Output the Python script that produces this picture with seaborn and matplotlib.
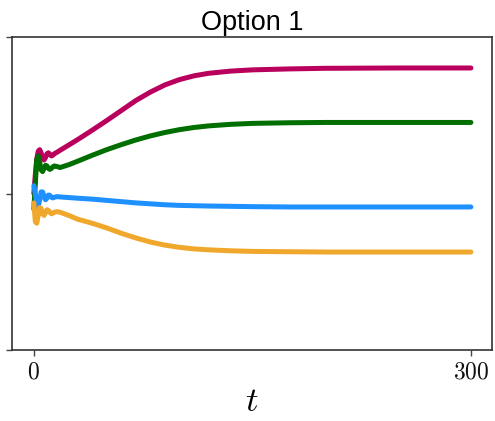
import numpy as np
import pandas as pd
import matplotlib
matplotlib.use("Agg")
import matplotlib.pyplot as plt
import seaborn as sns

# Time samples shared by all four trajectories
t = [0, 1, 2, 3, 4, 5, 6, 7, 8, 9, 10, 11, 12, 13, 14, 16, 18, 24, 30,
     40, 50, 60, 70, 80, 90, 100, 110, 120, 135, 150, 175, 200, 250, 300]

magenta = [0.500, 0.560, 0.610, 0.635, 0.640, 0.630, 0.612, 0.607, 0.615, 0.627,
           0.630, 0.625, 0.620, 0.622, 0.627, 0.632, 0.638, 0.655, 0.672,
           0.702, 0.733, 0.765, 0.797, 0.824, 0.847, 0.864, 0.876, 0.884, 0.891,
           0.895, 0.898, 0.900, 0.901, 0.901]
green = [0.450, 0.530, 0.610, 0.620, 0.600, 0.575, 0.570, 0.580, 0.590, 0.588,
         0.580, 0.577, 0.580, 0.585, 0.588, 0.586, 0.583, 0.592, 0.603,
         0.622, 0.640, 0.656, 0.671, 0.684, 0.695, 0.704, 0.711, 0.716, 0.721,
         0.724, 0.726, 0.727, 0.727, 0.727]
blue = [0.525, 0.500, 0.465, 0.458, 0.480, 0.505, 0.505, 0.490, 0.480, 0.485,
        0.495, 0.494, 0.488, 0.486, 0.488, 0.490, 0.489, 0.487, 0.485,
        0.482, 0.478, 0.474, 0.470, 0.467, 0.464, 0.462, 0.461, 0.460, 0.459,
        0.458, 0.457, 0.457, 0.457, 0.457]
orange = [0.470, 0.410, 0.405, 0.430, 0.455, 0.452, 0.435, 0.430, 0.440, 0.448,
          0.446, 0.440, 0.435, 0.437, 0.440, 0.442, 0.440, 0.430, 0.418,
          0.405, 0.390, 0.373, 0.358, 0.345, 0.335, 0.328, 0.323, 0.320, 0.317,
          0.315, 0.314, 0.313, 0.313, 0.313]

series_names = ["s1", "s2", "s3", "s4"]
series_values = [magenta, green, blue, orange]
colors = ["#b8005c", "#006e00", "#1e90ff", "#efa82c"]

x_ticks = [0, 300]
x_tick_labels = ["$0$", "$300$"]
y_ticks = [0.0, 0.5, 1.0]

frames = [pd.DataFrame({"t": t, "value": v, "series": n})
          for n, v in zip(series_names, series_values)]
df = pd.concat(frames, ignore_index=True)

sns.set_style("ticks")
plt.rcParams["mathtext.fontset"] = "cm"
plt.rcParams["text.color"] = "black"
plt.rcParams["xtick.labelcolor"] = "#111111"

fig = plt.figure(figsize=(4.95, 4.21), dpi=100)
ax = fig.add_axes([12 / 495, 1 - 350 / 421, 480 / 495, 313 / 421])

sns.lineplot(data=df, x="t", y="value", hue="series", palette=colors,
             linewidth=3.6, legend=False, ax=ax)

ax.set_xlim(-15, 314.5)
ax.set_ylim(0, 1)
ax.set_xticks(x_ticks)
ax.set_xticklabels(x_tick_labels, fontsize=17)
ax.set_yticks(y_ticks)
ax.set_yticklabels([])
ax.tick_params(axis="both", length=4, width=1, color="#444444", pad=3)
ax.set_xlabel("$t$", fontsize=25, labelpad=0, color="black")
ax.set_ylabel("")
ax.set_title("Option 1", fontsize=19.5, family="Liberation Sans", pad=5,
             color="black")

for sp in ax.spines.values():
    sp.set_visible(True)
    sp.set_color("#333333")
    sp.set_linewidth(1.2)

fig.savefig("out.png", dpi=100)
